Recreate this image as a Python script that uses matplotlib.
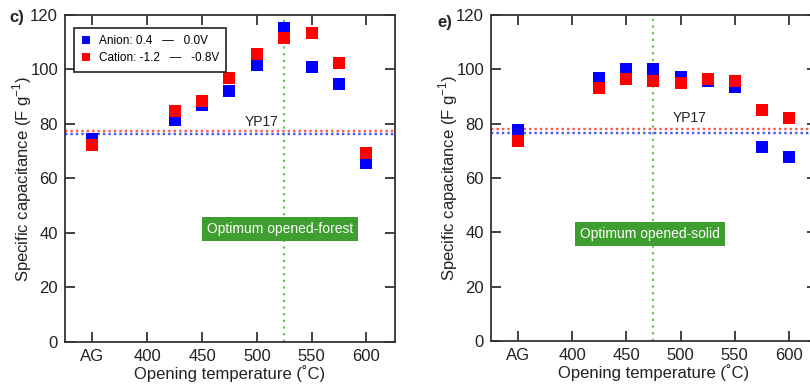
import matplotlib
matplotlib.use("Agg")
import matplotlib.pyplot as plt

plt.rcParams['font.family'] = ['Liberation Sans', 'DejaVu Sans']

# x positions (AG plotted at 350)
x_pos = [350, 425, 450, 475, 500, 525, 550, 575, 600]
tick_pos = [350, 400, 450, 500, 550, 600]
tick_labels = ['AG', '400', '450', '500', '550', '600']

# Panel c) opened-forest
c_anion = [74.5, 81.6, 87.0, 92.2, 101.8, 115.3, 100.9, 94.6, 65.8]
c_cation = [72.3, 84.6, 88.3, 97.0, 105.6, 111.7, 113.4, 102.2, 69.5]
c_yp17_anion = 76.2
c_yp17_cation = 77.6
c_optimum = 525

# Panel e) opened-solid
e_anion = [77.5, 96.9, 100.0, 100.0, 97.3, 95.6, 93.5, 71.4, 67.6]
e_cation = [73.7, 93.0, 96.3, 95.8, 95.0, 96.3, 95.6, 85.0, 82.0]
e_yp17_anion = 76.5
e_yp17_cation = 78.0
e_optimum = 475

fig = plt.figure(figsize=(8.1, 3.87), dpi=100)
ax1 = fig.add_axes([0.0802, 0.1163, 0.4074, 0.845])
ax2 = fig.add_axes([0.6062, 0.1186, 0.4025, 0.8427])

spine_col = '#333333'
green_line = '#6cc05a'
box_col = '#3f9e30'

def setup(ax, anion, cation, ya, yc, opt, boxtext, boxxy, ypxy, label, labelxy):
    ax.axvline(opt, color=green_line, ls=(0, (1, 2)), lw=1.6, zorder=1)
    ax.axhline(yc, color='#ff5555', ls=(0, (1, 1.3)), lw=1.7, zorder=1)
    ax.axhline(ya, color='#4455ff', ls=(0, (1, 1.3)), lw=1.7, zorder=1)
    ax.plot(x_pos, anion, 's', color='#0000ff', ms=8.8, mew=0, ls='none', zorder=3,
            label='Anion: 0.4   \u2014   0.0V')
    ax.plot(x_pos, cation, 's', color='#ff0000', ms=8.8, mew=0, ls='none', zorder=4,
            label='Cation: -1.2   \u2014   -0.8V')
    ax.set_xlim(325, 626)
    ax.set_ylim(0, 120)
    ax.set_xticks(tick_pos)
    ax.set_xticklabels(tick_labels)
    ax.set_yticks([0, 20, 40, 60, 80, 100, 120])
    ax.tick_params(direction='in', length=7.5, width=1.3, color=spine_col,
                   top=True, right=True, labelsize=12, pad=5, labelcolor='#222222')
    for s in ax.spines.values():
        s.set_color(spine_col)
        s.set_linewidth(1.3)
    ax.set_xlabel('Opening temperature (\u02daC)', fontsize=12, labelpad=1, color='#222222')
    ax.set_ylabel('Specific capacitance (F g$^{\\mathregular{-1}}$)', fontsize=12,
                  labelpad=-3, color='#222222')
    ax.text(boxxy[0], boxxy[1], boxtext, color='white', fontsize=10, ha='center',
            va='center', zorder=5,
            bbox=dict(boxstyle='square,pad=0.35', fc=box_col, ec='none'))
    ax.text(ypxy[0], ypxy[1], 'YP17', fontsize=10, ha='center', va='center', color='#222222')
    fig.text(labelxy[0], labelxy[1], label, fontsize=12, fontweight='bold', ha='left',
             va='center', color='#222222')

setup(ax1, c_anion, c_cation, c_yp17_anion, c_yp17_cation, c_optimum,
      'Optimum opened-forest', (521, 41.5), (504, 80.6), 'c)', (0.012, 0.955))
setup(ax2, e_anion, e_cation, e_yp17_anion, e_yp17_cation, e_optimum,
      'Optimum opened-solid', (471.5, 39.5), (508, 82.2), 'e)', (0.540, 0.942))

leg = ax1.legend(loc='upper left', bbox_to_anchor=(0.027, 0.96), borderaxespad=0,
                 fontsize=8.5, frameon=True, fancybox=False, edgecolor='#222222',
                 framealpha=1, handlelength=0.8, handletextpad=0.7, borderpad=0.6,
                 labelspacing=0.45, markerscale=0.6)
leg.get_frame().set_linewidth(1.2)

fig.savefig('out.png', dpi=100)
